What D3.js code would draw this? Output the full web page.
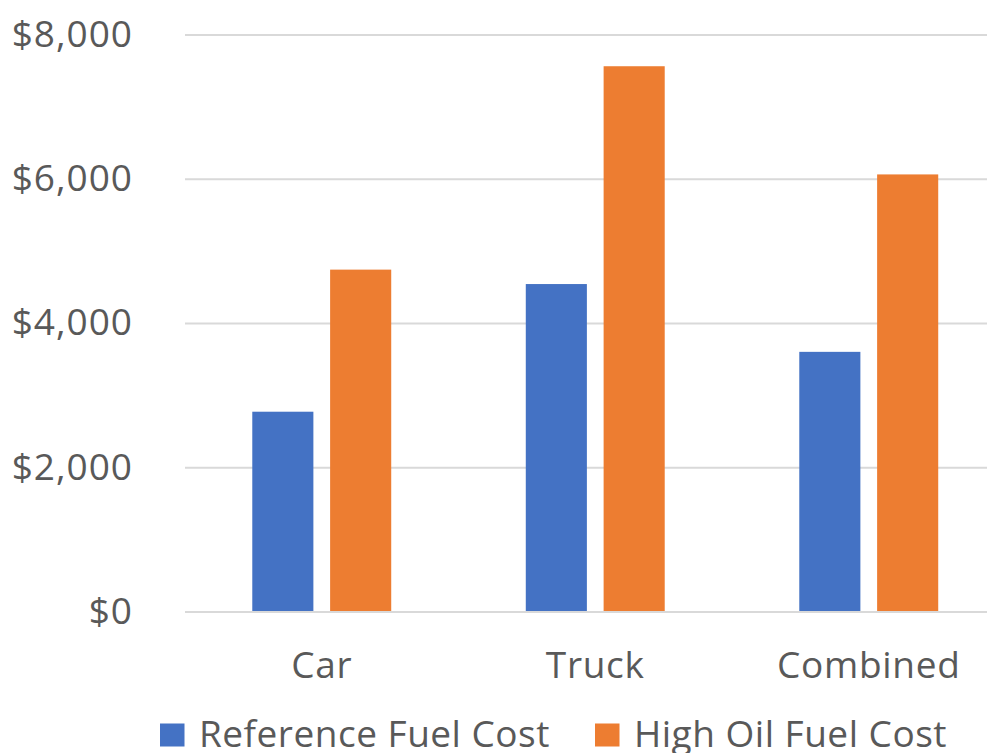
<!DOCTYPE html>
<html>
<head>
<meta charset="utf-8">
<script src="https://cdn.jsdelivr.net/npm/d3@7"></script>
<style>
  html, body { margin: 0; padding: 0; background: #fff; }
  svg { display: block; }
  text { font-family: "Open Sans", "Noto Sans", sans-serif; fill: #595959; }
</style>
</head>
<body>
<svg id="chart" width="987" height="753"></svg>
<script>
// Annual fuel cost by vehicle type, two price scenarios
const categories = ["Car", "Truck", "Combined"];
const seriesNames = ["Reference Fuel Cost", "High Oil Fuel Cost"];
const referenceCost = [2770, 4540, 3600];
const highOilCost = [4740, 7560, 6060];
const yTicks = [0, 2000, 4000, 6000, 8000];
const colors = ["#4472C4", "#ED7D31"];

const seriesValues = [referenceCost, highOilCost];
const rows = categories.map((c, i) => ({
  category: c,
  values: seriesNames.map((s, j) => ({ series: s, idx: j, value: seriesValues[j][i] }))
}));

const svg = d3.select("#chart");
const plot = { left: 185, right: 1005.5, top: 34.5, bottom: 611.5 };

const y = d3.scaleLinear().domain([0, 8000]).range([plot.bottom, plot.top]);

const x0 = d3.scaleBand()
  .domain(categories)
  .range([plot.left, plot.right])
  .paddingInner(0.492)
  .paddingOuter(0.246);

const x1 = d3.scaleBand()
  .domain(seriesNames)
  .range([0, x0.bandwidth()])
  .paddingInner(0.215)
  .paddingOuter(0);

// Horizontal gridlines with dollar labels
const yAxis = d3.axisLeft(y)
  .tickValues(yTicks)
  .tickSize(-(plot.right - plot.left))
  .tickPadding(52)
  .tickFormat(d => "$" + d3.format(",")(d));

const gy = svg.append("g")
  .attr("transform", `translate(${plot.left},0)`)
  .call(yAxis);
gy.select(".domain").remove();
gy.selectAll(".tick line")
  .attr("stroke", "#D9D9D9")
  .attr("stroke-width", 2);
gy.selectAll(".tick text")
  .attr("font-size", 37)
  .attr("letter-spacing", "1px")
  .attr("fill", "#595959")
  .attr("font-family", "'Open Sans', 'Noto Sans', sans-serif");

// Bars
const groups = svg.append("g")
  .selectAll("g")
  .data(rows)
  .join("g")
  .attr("transform", d => `translate(${x0(d.category)},0)`);

groups.selectAll("rect")
  .data(d => d.values)
  .join("rect")
  .attr("x", d => x1(d.series))
  .attr("width", x1.bandwidth())
  .attr("y", d => y(d.value))
  .attr("height", d => y(0) - y(d.value))
  .attr("fill", d => colors[d.idx]);

// Category axis
const xAxis = d3.axisBottom(x0).tickSize(0).tickPadding(40);
const gx = svg.append("g")
  .attr("transform", `translate(0,${plot.bottom})`)
  .call(xAxis);
gx.select(".domain").attr("stroke", "#D9D9D9").attr("stroke-width", 2);
gx.selectAll(".tick text")
  .attr("font-size", 37)
  .attr("letter-spacing", "0.7px")
  .attr("fill", "#595959")
  .attr("font-family", "'Open Sans', 'Noto Sans', sans-serif");

// Legend
const legendItems = [
  { name: seriesNames[0], color: colors[0], x: 160 },
  { name: seriesNames[1], color: colors[1], x: 595 }
];
const legend = svg.append("g");
legendItems.forEach(item => {
  legend.append("rect")
    .attr("x", item.x)
    .attr("y", 723.5)
    .attr("width", 24.5)
    .attr("height", 23)
    .attr("fill", item.color);
  legend.append("text")
    .attr("x", item.x + 39)
    .attr("y", 747)
    .attr("font-size", 37)
    .attr("letter-spacing", "0.5px")
    .text(item.name);
});
</script>
</body>
</html>
